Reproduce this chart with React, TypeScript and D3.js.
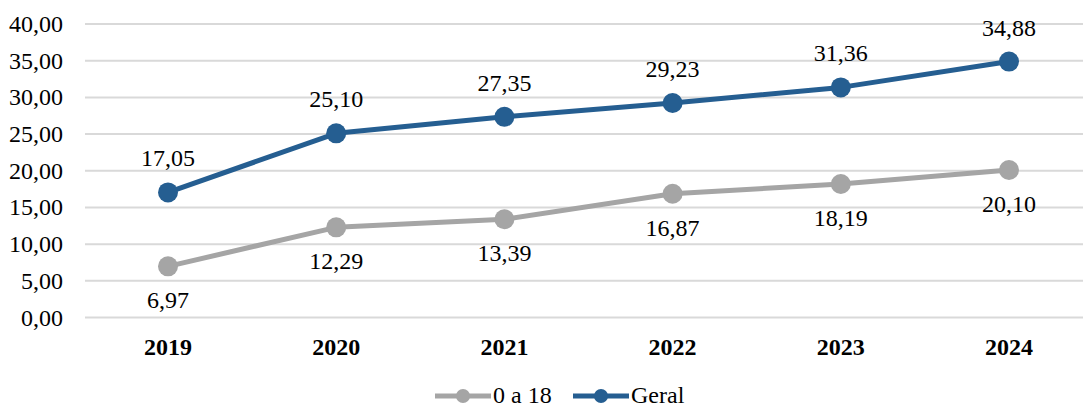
import React from "react";
import * as d3 from "d3";

const categories = ["2019", "2020", "2021", "2022", "2023", "2024"];
const seriesYouth = [6.97, 12.29, 13.39, 16.87, 18.19, 20.1];
const seriesGeral = [17.05, 25.1, 27.35, 29.23, 31.36, 34.88];
const yTicks = [0, 5, 10, 15, 20, 25, 30, 35, 40];

const W = 1083;
const H = 407;
const GRAY = "#A5A5A5";
const BLUE = "#255E91";
const FS = 24;
const FF = '"Liberation Serif", "Times New Roman", Tinos, "Nimbus Roman", FreeSerif, "DejaVu Serif", serif';
const TS = { fontFamily: FF };

const fmt = (v: number) => v.toFixed(2).replace(".", ",");

export default function App() {
  const x = d3.scalePoint<string>().domain(categories).range([168, 1009]);
  const y = d3.scaleLinear().domain([0, 40]).range([317.5, 24]);
  const line = d3
    .line<number>()
    .x((_, i) => x(categories[i]) as number)
    .y((d) => y(d));

  const series = [
    { name: "0 a 18", values: seriesYouth, color: GRAY, labelDy: 34 },
    { name: "Geral", values: seriesGeral, color: BLUE, labelDy: -34 },
  ];

  const legend = [
    { name: "0 a 18", color: GRAY, x0: 435 },
    { name: "Geral", color: BLUE, x0: 573 },
  ];

  return (
    <svg width={W} height={H} style={{ position: "absolute", left: 0, top: 0, fontFamily: FF }}>
      <style>{`text { font-family: ${FF}; }`}</style>
      {yTicks.map((t) => (
        <line key={"g" + t} x1={85} x2={W} y1={y(t)} y2={y(t)} stroke="#D9D9D9" strokeWidth={2} />
      ))}
      {series.map((s) => (
        <g key={s.name}>
          <path d={line(s.values) || ""} fill="none" stroke={s.color} strokeWidth={5} strokeLinejoin="round" />
          {s.values.map((v, i) => (
            <circle key={i} cx={x(categories[i])} cy={y(v)} r={10} fill={s.color} />
          ))}
        </g>
      ))}
      {legend.map((l) => (
        <g key={l.name}>
          <line x1={l.x0} x2={l.x0 + 56} y1={396} y2={396} stroke={l.color} strokeWidth={5} />
          <circle cx={l.x0 + 28} cy={396} r={7} fill={l.color} />
        </g>
      ))}
      {yTicks.map((t) => (
        <text key={"t" + t} x={63} y={y(t) + 8} textAnchor="end" fontSize={FS} style={TS}>
          {fmt(t)}
        </text>
      ))}
      {categories.map((c) => (
        <text key={c} x={x(c)} y={355} textAnchor="middle" fontSize={FS} fontWeight="bold" style={TS}>
          {c}
        </text>
      ))}
      {series.map((s) =>
        s.values.map((v, i) => (
          <text
            key={s.name + i}
            x={x(categories[i])}
            y={y(v) + s.labelDy + 8}
            textAnchor="middle"
            fontSize={FS}
            style={TS}
          >
            {fmt(v)}
          </text>
        ))
      )}
      {legend.map((l) => (
        <text key={"lt" + l.name} x={l.x0 + 58} y={403} fontSize={FS} style={TS}>
          {l.name}
        </text>
      ))}
    </svg>
  );
}
